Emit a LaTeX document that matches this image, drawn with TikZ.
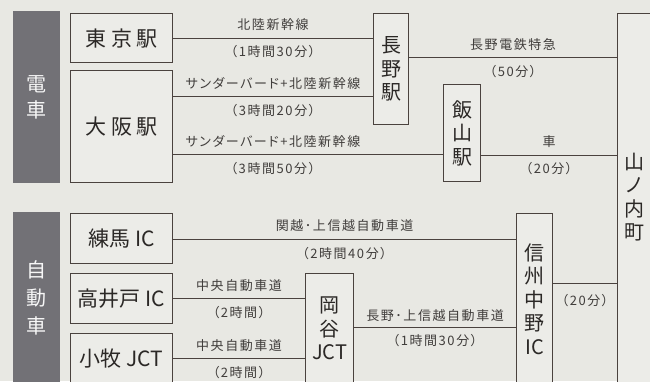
\documentclass[tikz,border=0pt]{standalone}
\usepackage{fontspec}
\setmainfont{Noto Sans CJK JP}
\newfontfamily\lblfont[RawFeature=+palt,LetterSpace=12]{Noto Sans CJK JP}
\newfontfamily\widefont[LetterSpace=20]{Noto Sans CJK JP}
\usetikzlibrary{positioning}
\usetikzlibrary{calc}
\definecolor{bgcol}{HTML}{E8E8E3}
\definecolor{boxcol}{HTML}{ECECE8}
\definecolor{edgecol}{HTML}{4A423E}
\definecolor{barcol}{HTML}{727176}
\definecolor{stncol}{HTML}{2B2826}
\definecolor{lblcol}{HTML}{403D3B}

\begin{document}
\begin{tikzpicture}[x=1pt,y=-1pt,
  box/.style={draw=edgecol, fill=boxcol, line width=1.1pt, inner sep=0pt, anchor=north west, text=stncol},
  bar/.style={fill=barcol, inner sep=0pt, anchor=north west, text=white!94!gray, align=center},
  route/.style={draw=edgecol, line width=1.1pt},
  lbl/.style={text=lblcol, font=\lblfont\fontsize{13}{13}\selectfont, inner sep=0pt},
  vtxt/.style={align=center, text=stncol, inner sep=0pt, font=\fontsize{20}{23.5}\selectfont},
  htxt/.style={font=\fontsize{21}{21}\selectfont}]

\path[use as bounding box, clip] (0,0) rectangle (650,381);
\fill[bgcol] (0,0) rectangle (650,381);

% 電車
\node[bar, minimum width=47pt, minimum height=172pt, font=\fontsize{20}{26}\selectfont] (trainbar) at (13,11) {電\\車};
\node[box, minimum width=102pt, minimum height=49pt, font=\widefont\fontsize{21}{21}\selectfont] (tokyo) at (70,13) {東京駅};
\node[box, minimum width=102pt, minimum height=112pt, font=\widefont\fontsize{21}{21}\selectfont] (osaka) at (70,70) {大阪駅};
\node[box, minimum width=35pt, minimum height=111pt, vtxt] (nagano) at (373,13) {長\\野\\駅};
\node[box, minimum width=37pt, minimum height=97pt, vtxt] (iiyama) at (443,84) {飯\\山\\駅};
\node[box, minimum width=53pt, minimum height=390pt] (yama) at (617,13) {};
\node[vtxt] (yamatext) at (634,197) {山\\ノ\\内\\町};

% 自動車
\node[bar, minimum width=47pt, minimum height=172pt, font=\fontsize{20}{28}\selectfont] (carbar) at (13,212) {自\\動\\車};
\node[box, minimum width=102pt, minimum height=50pt, htxt] (nerima) at (70,213) {練馬 IC};
\node[box, minimum width=102pt, minimum height=50pt, htxt] (takaido) at (70,273) {高井戸 IC};
\node[box, minimum width=102pt, minimum height=50pt, htxt] (komaki) at (70,333) {小牧 JCT};
\node[box, minimum width=48pt, minimum height=110pt, vtxt] (okaya) at (305,273) {岡\\谷\\JCT};
\node[box, minimum width=36pt, minimum height=171pt, vtxt] (shinshu) at (516,213) {信\\州\\中\\野\\IC};

% 電車の経路
\draw[route] (tokyo.east) -- (tokyo.east -| nagano.west)
  node[lbl, midway, yshift=13pt] (ta) {北陸新幹線}
  node[lbl, midway, yshift=-14pt] (tb) {（1時間30分）};
\draw[route] ([yshift=30pt]osaka.east) -- ([yshift=30pt]osaka.east -| nagano.west)
  node[lbl, midway, yshift=13pt] (oa) {サンダーバード+北陸新幹線}
  node[lbl, midway, yshift=-14pt] (ob) {（3時間20分）};
\draw[route] ([yshift=-28pt]osaka.east) -- ([yshift=-28pt]osaka.east -| iiyama.west)
  node[lbl, pos=.37, yshift=13pt] (oc) {サンダーバード+北陸新幹線}
  node[lbl, pos=.37, yshift=-14pt] (od) {（3時間50分）};
\draw[route] ([yshift=11.5pt]nagano.east) -- ([yshift=11.5pt]nagano.east -| yama.west)
  node[lbl, midway, yshift=13pt] (na) {長野電鉄特急}
  node[lbl, midway, yshift=-14pt] (nb) {（50分）};
\draw[route] ([yshift=-22pt]iiyama.east) -- ([yshift=-22pt]iiyama.east -| yama.west)
  node[lbl, midway, yshift=13pt] (ia) {車}
  node[lbl, midway, yshift=-14pt] (ib) {（20分）};

% 自動車の経路
\draw[route] ([yshift=-1pt]nerima.east) -- ([yshift=-1pt]nerima.east -| shinshu.west)
  node[lbl, midway, yshift=14pt] (ka) {関越･上信越自動車道}
  node[lbl, midway, yshift=-14pt] (kb) {（2時間40分）};
\draw[route] (takaido.east) -- (takaido.east -| okaya.west)
  node[lbl, midway, yshift=13pt] (ca) {中央自動車道}
  node[lbl, midway, yshift=-14pt] (cb) {（2時間）};
\draw[route] (komaki.east) -- (komaki.east -| okaya.west)
  node[lbl, midway, yshift=13pt] (cc) {中央自動車道}
  node[lbl, midway, yshift=-14pt] (cd) {（2時間）};
\draw[route] ([yshift=1pt]okaya.east) -- ([yshift=1pt]okaya.east -| shinshu.west)
  node[lbl, midway, yshift=12pt] (ja) {長野･上信越自動車道}
  node[lbl, midway, yshift=-13pt] (jb) {（1時間30分）};
\draw[route] ([yshift=15.5pt]shinshu.east) -- ([yshift=15.5pt]shinshu.east -| yama.west)
  node[lbl, midway, yshift=-17pt] (sb) {（20分）};
\end{tikzpicture}
\end{document}
